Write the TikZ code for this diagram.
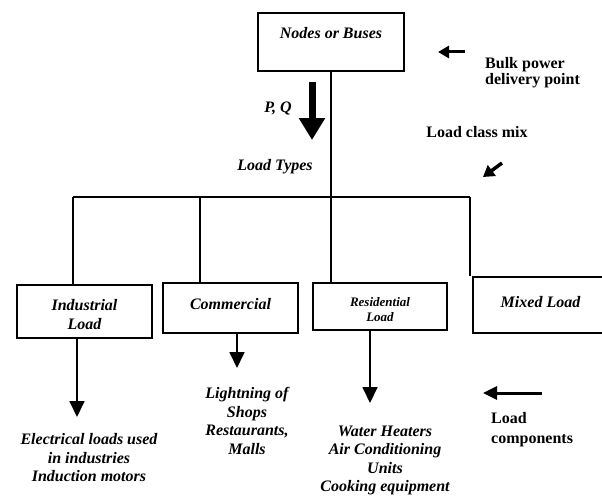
\documentclass[tikz,border=0pt]{standalone}
\usepackage{fontspec}
\setmainfont{Liberation Serif}
\usetikzlibrary{arrows.meta}

\tikzset{
  loadbox/.style={draw,line width=1.6pt,inner sep=0pt,align=center},
  thinarrow/.style={-{Triangle[width=15pt,length=16pt]},line width=1.8pt},
  sidearrow/.style={-{Triangle[width=12pt,length=11pt]},line width=3pt}
}

\begin{document}
\begin{tikzpicture}[x=1pt,y=-1pt,
    font=\fontsize{16}{18.5}\selectfont\bfseries\itshape]
  \useasboundingbox (0,0) rectangle (602,495);
		\begin{scope}[every node/.style={loadbox}]
			\node[minimum width=146pt,minimum height=58pt,text height=25.5pt,text depth=32.5pt] (buses) at (331,42) {Nodes or Buses};
			\node[minimum width=135pt,minimum height=53pt,text height=44pt,text depth=9pt] (industrial) at (84.5,311.5) {Industrial\\Load};
			\node[minimum width=135pt,minimum height=50pt,text height=26.5pt,text depth=23.5pt] (commercial) at (230.5,308) {Commercial};
			\node[minimum width=134pt,minimum height=47pt,text height=38.5pt,text depth=8.5pt,font=\fontsize{13}{15}\selectfont\bfseries\itshape] (residential) at (380,306.5) {Residential\\Load};
			\node[minimum width=135pt,minimum height=56pt,text height=30.5pt,text depth=25.5pt] (mixed) at (540.5,305) {Mixed Load};
		\end{scope}
		% bus and drops
		\coordinate (busL) at (73,197);
		\coordinate (busR) at (470,197);
		\coordinate (dropC) at (200,197);
		\coordinate (dropR) at (331,197);
		\begin{scope}[line width=1.6pt]
			\draw (buses.south) -- (buses.south |- busL);
			\draw (busL) -- (busR);
			\draw (busL) -- (busL |- industrial.north);
			\draw (dropC) -- (dropC |- commercial.north);
			\draw (dropR) -- (dropR |- residential.north);
			\draw (busR) -- (busR |- mixed.north);
		\end{scope}
		% arrow ends
		\coordinate (pqtop) at (312,82);
		\coordinate (pqtip) at (312,140);
		\coordinate (bulkfrom) at (465,52);
		\coordinate (bulkto) at (438,52);
		\coordinate (mixfrom) at (502,163);
		\coordinate (mixto) at (483,177);
		\coordinate (indtip) at (77,417);
		\coordinate (comtip) at (237,368);
		\coordinate (restip) at (370,403);
		\coordinate (compfrom) at (542,393);
		\coordinate (compto) at (483,393);
	\begin{scope}[every edge/.style={draw}]
			\path [-{Triangle[width=25pt,length=22pt]},line width=7pt] (pqtop) edge (pqtip);
			\path [-{Triangle[width=12pt,length=11pt]},line width=3pt] (bulkfrom) edge (bulkto);
			\path [-{Triangle[width=13pt,length=11pt]},line width=3.5pt] (mixfrom) edge (mixto);
			\path [thinarrow] (indtip |- industrial.south) edge (indtip);
			\path [thinarrow] (comtip |- commercial.south) edge (comtip);
			\path [thinarrow] (restip |- residential.south) edge (restip);
			\path [-{Triangle[width=13pt,length=14pt]},line width=3pt] (compfrom) edge (compto);
		\end{scope}
		\begin{scope}[every node/.style={align=center,inner sep=0pt}]
			\node (pq) at (278,108) {P, Q};
			\node (types) at (275,167) {Load Types};
			\node[font=\fontsize{16}{16}\selectfont\bfseries,anchor=west,align=left] (bulk) at (485,73) {Bulk power\\delivery point};
			\node[font=\fontsize{16}{18.5}\selectfont\bfseries] (classmix) at (477,132) {Load class mix};
			\node (indtext) at (89,458) {Electrical loads used\\in industries\\Induction motors};
			\node (comtext) at (247,421) {Lightning of\\Shops\\Restaurants,\\Malls};
			\node (restext) at (385,460.5) {Water Heaters\\Air Conditioning\\Units\\Cooking equipment};
			\node[font=\fontsize{16}{20}\selectfont\bfseries,anchor=west,align=left] (comptext) at (491,430) {Load\\components};
		\end{scope}
	\end{tikzpicture}
\end{document}
